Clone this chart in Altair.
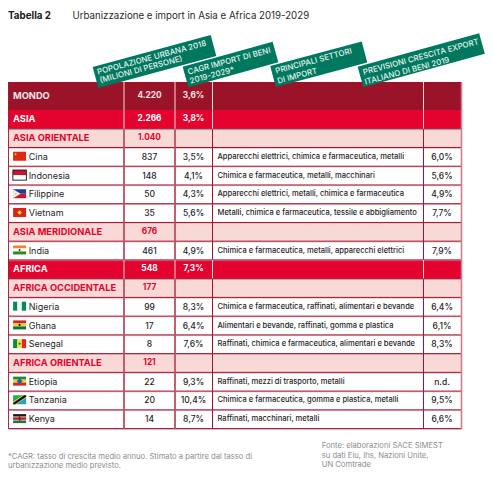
import altair as alt
import pandas as pd

# ---------- chart values ----------
rows = ["MONDO", "ASIA", "ASIA ORIENTALE", "Cina", "Indonesia", "Filippine", "Vietnam",
        "ASIA MERIDIONALE", "India", "AFRICA", "AFRICA OCCIDENTALE", "Nigeria", "Ghana",
        "Senegal", "AFRICA ORIENTALE", "Etiopia", "Tanzania", "Kenya"]
kinds = ["world", "macro", "region", "c", "c", "c", "c", "region", "c", "macro", "region",
         "c", "c", "c", "region", "c", "c", "c"]
population = ["4.220", "2.266", "1.040", "837", "148", "50", "35", "676", "461", "548", "177",
              "99", "17", "8", "121", "22", "20", "14"]
cagr = ["3,6%", "3,8%", "", "3,5%", "4,1%", "4,3%", "5,6%", "", "4,9%", "7,3%", "",
        "8,3%", "6,4%", "7,6%", "", "9,3%", "10,4%", "8,7%"]
sectors = ["", "", "",
           "Apparecchi elettrici, chimica e farmaceutica, metalli",
           "Chimica e farmaceutica, metalli, macchinari",
           "Apparecchi elettrici, metalli, chimica e farmaceutica",
           "Metalli, chimica e farmaceutica, tessile e abbigliamento",
           "",
           "Chimica e farmaceutica, metalli, apparecchi elettrici",
           "", "",
           "Chimica e farmaceutica, raffinati, alimentari e bevande",
           "Alimentari e bevande, raffinati, gomma e plastica",
           "Raffinati, chimica e farmaceutica, alimentari e bevande",
           "",
           "Raffinati, mezzi di trasporto, metalli",
           "Chimica e farmaceutica, gomma e plastica, metalli",
           "Raffinati, macchinari, metalli"]
export = ["", "", "", "6,0%", "5,6%", "4,9%", "7,7%", "", "7,9%", "", "", "6,4%", "6,1%", "8,3%",
          "", "n.d.", "9,5%", "6,6%"]
title_bold = "Tabella 2"
title_text = "Urbanizzazione e import in Asia e Africa 2019-2029"
header_lines = [["POPOLAZIONE URBANA 2018", "(MILIONI DI PERSONE)"],
                ["CAGR IMPORT DI BENI", "2019-2029*"],
                ["PRINCIPALI SETTORI", "DI IMPORT"],
                ["PREVISIONI CRESCITA EXPORT", "ITALIANO DI BENI 2019"]]
note_lines = ["*CAGR: tasso di crescita medio annuo. Stimato a partire dal tasso di",
              "urbanizzazione medio previsto."]
source_lines = ["Fonte: elaborazioni SACE SIMEST", "su dati Eiu, Ihs, Nazioni Unite,", "UN Comtrade"]

# ---------- layout ----------
FONT = "Inter"
W, H = 477, 462
TOP, FIRST_H, ROW_H = 82.0, 28.0, 18.74
EDGES = [8.3, 124, 175, 212.5, 423.5, 461.5]
CX1, CX2, CX4 = 149.5, 193.5, 442
DARK, PINK, WINE, RED, BLUSH, GREEN = "#A01431", "#C9808C", "#9B1328", "#E4032E", "#F9D9D5", "#00785F"
INK, GRAY = "#1E1E24", "#8E8E8E"

tops, y = [], TOP
for i in range(len(rows)):
    tops.append(y)
    y += FIRST_H if i == 0 else ROW_H

X = alt.Scale(domain=[8, 8 + W], range=[0, W])
Y = alt.Scale(domain=[8, 8 + H], range=[0, H])
xe = lambda f="x": alt.X(f"{f}:Q", scale=X, axis=None)
ye = lambda f="y": alt.Y(f"{f}:Q", scale=Y, axis=None)

fills = {"world": WINE, "macro": RED, "region": BLUSH, "c": "#FFFFFF"}
df = pd.DataFrame({"name": rows, "kind": kinds, "pop": population, "cagr": cagr,
                   "sector": sectors, "export": export, "top": tops})
df["bottom"] = [t + (FIRST_H if i == 0 else ROW_H) for i, t in enumerate(tops)]
df["mid"] = (df["top"] + df["bottom"]) / 2
df["fill"] = df["kind"].map(fills)
df["left"], df["right"] = EDGES[0], EDGES[-1]

backgrounds = alt.Chart(df).mark_rect().encode(
    x=xe("left"), x2="right:Q", y=ye("top"), y2="bottom:Q",
    color=alt.Color("fill:N", scale=None))

# horizontal rules
hl = pd.DataFrame({"y": tops + [df["bottom"].iloc[-1]]})
hl["x"], hl["x2"] = EDGES[0], EDGES[-1]
hl = hl.iloc[2:]
hrules_soft = alt.Chart(hl.assign(y=hl["y"] + 0.7)).mark_rule(color="#D9A0A8", strokeWidth=0.8).encode(
    x=xe(), x2="x2:Q", y=ye())
hrules = alt.Chart(hl).mark_rule(color=DARK, strokeWidth=1.0).encode(x=xe(), x2="x2:Q", y=ye())

# vertical rules, per row, because they lighten on the red rows
vrec = []
for _, r in df.iterrows():
    hot = r["kind"] in ("world", "macro")
    for j, e in enumerate(EDGES):
        if j in (0,):
            col, w = DARK, 1.2
        elif j == 5:
            col, w = PINK, 1.6
        elif hot:
            col, w = ("#E9A6B0" if j < 3 else "#F6D8DC"), (1.3 if j < 3 else 1.0)
        else:
            col, w = (PINK if j < 3 else DARK), (1.8 if j < 3 else 1.0)
        vrec.append({"x": e, "y": r["top"], "y2": r["bottom"], "c": col, "w": w})
vrules = alt.Chart(pd.DataFrame(vrec)).mark_rule().encode(
    x=xe(), y=ye(), y2="y2:Q",
    color=alt.Color("c:N", scale=None), size=alt.Size("w:Q", scale=None))
vrec2 = [v for v in vrec if v["c"] == PINK and v["x"] in EDGES[1:3]]
vrules_core = alt.Chart(pd.DataFrame(vrec2)).mark_rule(color=DARK, strokeWidth=0.7).encode(
    x=xe(), y=ye(), y2="y2:Q")

# text helpers
txt = df.copy()
txt["tc"] = txt["kind"].map({"world": "#F7E6E8", "macro": "#FFFFFF", "region": RED, "c": INK})
heads = txt[txt["kind"] != "c"].assign(x=13.0)
names = txt[txt["kind"] == "c"].assign(x=28.7)
name_head = alt.Chart(heads).mark_text(align="left", baseline="middle", font=FONT, fontWeight=700, fontSize=9.3).encode(
    x=xe(), y=ye("mid"), text="name:N", color=alt.Color("tc:N", scale=None))
name_country = alt.Chart(names).mark_text(align="left", baseline="middle", font=FONT, fontSize=9).encode(
    x=xe(), y=ye("mid"), text="name:N", color=alt.Color("tc:N", scale=None))


def col_text(frame, field, cx, weight, size):
    return alt.Chart(frame[frame[field] != ""].assign(x=cx)).mark_text(
        align="center", baseline="middle", font=FONT, fontWeight=weight, fontSize=size
    ).encode(x=xe(), y=ye("mid"), text=f"{field}:N", color=alt.Color("tc:N", scale=None))


hot_rows = txt[txt["kind"] != "c"]
cold_rows = txt[txt["kind"] == "c"]
numbers = [col_text(hot_rows, "pop", CX1, 700, 8.3), col_text(hot_rows, "cagr", CX2, 700, 8.3),
           col_text(cold_rows, "pop", CX1, 500, 8.5), col_text(cold_rows, "cagr", CX2, 500, 8.5),
           col_text(cold_rows, "export", CX4, 500, 8.5)]
sector_text = alt.Chart(cold_rows[cold_rows["sector"] != ""].assign(x=217.5)).mark_text(
    align="left", baseline="middle", font=FONT, fontSize=7.55, fontWeight=500
).encode(x=xe(), y=ye("mid"), text="sector:N", color=alt.Color("tc:N", scale=None))


# flags: drawn as symbols with custom paths, size 4 meaning one path unit = one pixel
def box(x0, y0, x1, y1):
    return f"M{x0},{y0}L{x1},{y0}L{x1},{y1}L{x0},{y1}Z"


def poly(*p):
    return "M" + "L".join(f"{a},{b}" for a, b in p) + "Z"


def dot(cx, cy, r):
    return poly((cx - r, cy), (cx, cy - r), (cx + r, cy), (cx, cy + r))


L, R_, T, B = -6.5, 6.5, -4.5, 4.5
flags = {
    "Cina": [(box(L, T, R_, B), "#DE2A12"), (dot(-4, -2, 1.2), "#F2C21C")],
    "Indonesia": [(box(-7.2, -5.4, 7.2, 5.6), "#141414"), (box(-6.3, -4.5, 6.3, 0), "#CE1230"),
                  (box(-6.3, 0, 6.3, 4.7), "#FFFFFF")],
    "Filippine": [(box(L, T, R_, 0), "#1F3D9E"), (box(L, 0, R_, B), "#D0142C"),
                  (poly((L, T), (1, 0), (L, B)), "#F4F1EA"), (dot(-3.8, 0, 1.1), "#E8C21C")],
    "Vietnam": [(box(L, T, R_, B), "#D8231C"), (dot(0, 0, 2.3), "#F7D81E")],
    "India": [(box(L, T, R_, -1.5), "#F0882A"), (box(L, -1.5, R_, 1.5), "#FAFAFA"),
              (box(L, 1.5, R_, B), "#2A8A1E"), (dot(0, 0, 1.2), "#1E2A60")],
    "Nigeria": [(box(L, T, -2.2, B), "#078A5A"), (box(-2.2, T, 2.2, B), "#F4F8F4"),
                (box(2.2, T, R_, B), "#078A5A")],
    "Ghana": [(box(L, T, R_, -1.5), "#D2232A"), (box(L, -1.5, R_, 1.5), "#F6CE24"),
              (box(L, 1.5, R_, B), "#0A7240"), (dot(0, 0, 1.4), "#1A1A1A")],
    "Senegal": [(box(L, T, -2.2, B), "#0A8A42"), (box(-2.2, T, 2.2, B), "#F8E43A"),
                (box(2.2, T, R_, B), "#E3242B"), (dot(0, 0, 1.4), "#0A8A42")],
    "Etiopia": [(box(L, T, R_, -1.5), "#1C8A36"), (box(L, -1.5, R_, 1.5), "#F2D61C"),
                (box(L, 1.5, R_, B), "#D8232A"), (dot(0, 0, 3.0), "#2A5AA8")],
    "Tanzania": [(poly((L, T), (R_, T), (L, B)), "#22B04A"), (poly((R_, T), (R_, B), (L, B)), "#1C9FD8"),
                 (poly((L, B), (L, 2), (3, T), (R_, T), (R_, -2), (-3, B)), "#F0D040"),
                 (poly((L, B), (L, 3.2), (4.5, T), (R_, T), (R_, -3.2), (-4.5, B)), "#111111")],
    "Kenya": [(box(L, T, R_, -1.9), "#1A1A1A"), (box(L, -1.9, R_, -1.3), "#F2F2F2"),
              (box(L, -1.3, R_, 1.3), "#BF1F2A"), (box(L, 1.3, R_, 1.9), "#F2F2F2"),
              (box(L, 1.9, R_, B), "#1F7A3A"), (poly((0, -3.5), (1.2, 0), (0, 3.5), (-1.2, 0)), "#8E1A20")],
}
frec = []
mid_of = dict(zip(df["name"], df["mid"]))
for country, parts in flags.items():
    for order, (path, col) in enumerate(parts):
        frec.append({"x": 19.6, "y": mid_of[country] - 0.6, "path": path, "c": col, "o": order, "k": country})
flag_layers = []
# one layer per depth so that the parts of a flag stack in the order given
fdf = pd.DataFrame(frec)
for order in sorted(fdf["o"].unique()):
    flag_layers.append(
        alt.Chart(fdf[fdf["o"] == order]).mark_point(filled=True, opacity=1, strokeWidth=0, size=4).encode(
            x=xe(), y=ye(),
            shape=alt.Shape("path:N", scale=None),
            color=alt.Color("c:N", scale=None)))

# green tilted header plates: thick rules running along each plate's length
ANGLE = 345
plates = pd.DataFrame({
    "x": [95.5, 185.5, 273.0, 360.5], "x2": [213.5, 275.5, 364.5, 482.0],
    "y": [77.5, 77.0, 76.5, 77.0], "y2": [45.5, 52.0, 52.0, 43.5]})
plate_layer = alt.Chart(plates).mark_rule(strokeWidth=21.5, color=GREEN, strokeCap="butt").encode(
    x=xe(), x2="x2:Q", y=ye(), y2="y2:Q")
starts = [[(97.5, 72.7), (100, 81)], [(188, 72.7), (190, 81.7)], [(275.7, 71.7), (277.7, 81.7)], [(363.3, 73), (365, 82.7)]]
hrec = []
for lines, pos in zip(header_lines, starts):
    for line, (hx, hy) in zip(lines, pos):
        hrec.append({"x": hx, "y": hy, "t": line})
header_text = alt.Chart(pd.DataFrame(hrec)).mark_text(
    align="left", baseline="middle", font=FONT, fontSize=7.95, fontWeight=500, angle=ANGLE, color="#E4F2EC"
).encode(x=xe(), y=ye(), text="t:N")

# title and footers
tb = alt.Chart(pd.DataFrame({"x": [8.0], "y": [15.5], "t": [title_bold]})).mark_text(
    align="left", baseline="middle", font=FONT, fontSize=9.8, fontWeight=700, color="#1A1A1A"
).encode(x=xe(), y=ye(), text="t:N")
tt = alt.Chart(pd.DataFrame({"x": [72.5], "y": [15.5], "t": [title_text]})).mark_text(
    align="left", baseline="middle", font=FONT, fontSize=9.7, color="#2A2A2A"
).encode(x=xe(), y=ye(), text="t:N")
foot = pd.DataFrame({"x": [8.0, 8.0, 321.7, 321.7, 321.7], "y": [456.5, 465.5, 446.3, 456, 465.3],
                     "t": note_lines + source_lines})
foot_layer = alt.Chart(foot).mark_text(
    align="left", baseline="middle", font=FONT, fontSize=7.65, color=GRAY
).encode(x=xe(), y=ye(), text="t:N")

chart = alt.layer(
    backgrounds, hrules_soft, hrules, vrules, vrules_core, *flag_layers,
    name_head, name_country, *numbers, sector_text, tb, tt, foot_layer, plate_layer, header_text
).properties(width=W, height=H, padding=0, background="#FFFFFF",
             autosize=alt.AutoSizeParams(type="none")).configure_view(stroke=None)

chart.save("out.html", embed_options={"renderer": "svg", "actions": False})
